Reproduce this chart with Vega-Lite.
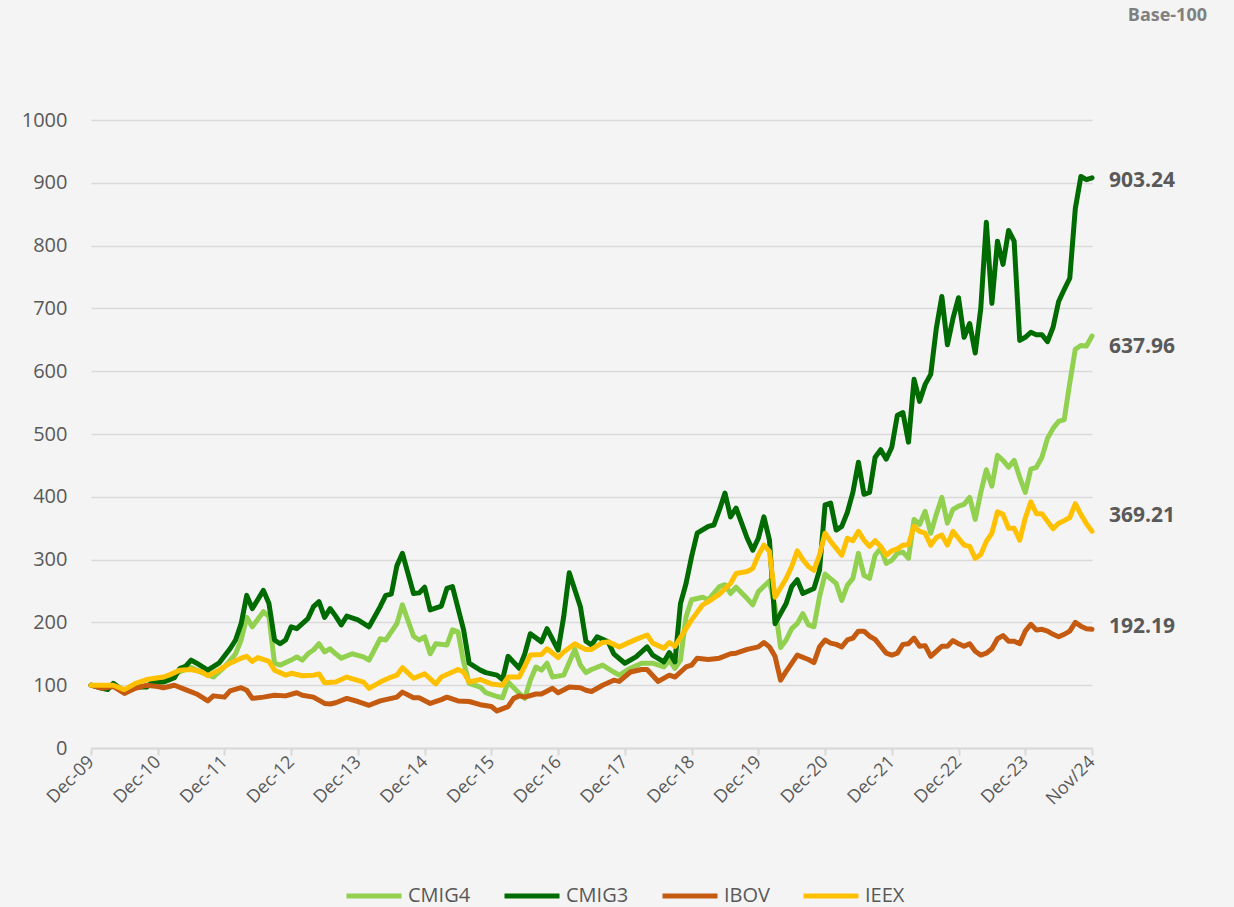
{
"$schema": "https://vega.github.io/schema/vega-lite/v6.json",
"width": 1001, "height": 628,
"autosize": {"type": "none"},
"padding": {"left": 91, "top": 120, "right": 142, "bottom": 159},
"background": "#f4f4f4",
"config": {"font": "Open Sans", "view": {"stroke": null}},
"title": {"text": "Base-100", "anchor": "end", "frame": "group", "fontSize": 18, "fontWeight": "bold", "color": "#808080", "offset": 85, "dx": 115},
"layer": [
{
"data": {"values": [
{"s":"CMIG4","m":0,"v":100},{"s":"CMIG4","m":2,"v":97},{"s":"CMIG4","m":4,"v":101},{"s":"CMIG4","m":6,"v":91},{"s":"CMIG4","m":8,"v":97},{"s":"CMIG4","m":10,"v":98},{"s":"CMIG4","m":12,"v":104},{"s":"CMIG4","m":14,"v":108},{"s":"CMIG4","m":15,"v":118},{"s":"CMIG4","m":17,"v":125},{"s":"CMIG4","m":18,"v":128},{"s":"CMIG4","m":20,"v":120},{"s":"CMIG4","m":22,"v":113},{"s":"CMIG4","m":24,"v":129},{"s":"CMIG4","m":26,"v":150},{"s":"CMIG4","m":27,"v":172},{"s":"CMIG4","m":28,"v":208},{"s":"CMIG4","m":29,"v":193},{"s":"CMIG4","m":31,"v":217},{"s":"CMIG4","m":32,"v":209},{"s":"CMIG4","m":33,"v":135},{"s":"CMIG4","m":34,"v":132},{"s":"CMIG4","m":36,"v":140},{"s":"CMIG4","m":37,"v":145},{"s":"CMIG4","m":38,"v":140},{"s":"CMIG4","m":39,"v":150},{"s":"CMIG4","m":40,"v":156},{"s":"CMIG4","m":41,"v":166},{"s":"CMIG4","m":42,"v":153},{"s":"CMIG4","m":43,"v":158},{"s":"CMIG4","m":44,"v":150},{"s":"CMIG4","m":45,"v":143},{"s":"CMIG4","m":47,"v":150},{"s":"CMIG4","m":49,"v":145},{"s":"CMIG4","m":50,"v":140},{"s":"CMIG4","m":52,"v":174},{"s":"CMIG4","m":53,"v":172},{"s":"CMIG4","m":55,"v":198},{"s":"CMIG4","m":56,"v":228},{"s":"CMIG4","m":58,"v":178},{"s":"CMIG4","m":59,"v":172},{"s":"CMIG4","m":60,"v":177},{"s":"CMIG4","m":61,"v":150},{"s":"CMIG4","m":62,"v":166},{"s":"CMIG4","m":64,"v":164},{"s":"CMIG4","m":65,"v":188},{"s":"CMIG4","m":66,"v":185},{"s":"CMIG4","m":67,"v":137},{"s":"CMIG4","m":68,"v":103},{"s":"CMIG4","m":70,"v":97},{"s":"CMIG4","m":71,"v":88},{"s":"CMIG4","m":73,"v":82},{"s":"CMIG4","m":74,"v":80},{"s":"CMIG4","m":75,"v":105},{"s":"CMIG4","m":77,"v":87},{"s":"CMIG4","m":78,"v":79},{"s":"CMIG4","m":79,"v":108},{"s":"CMIG4","m":80,"v":129},{"s":"CMIG4","m":81,"v":124},{"s":"CMIG4","m":82,"v":135},{"s":"CMIG4","m":83,"v":113},{"s":"CMIG4","m":85,"v":116},{"s":"CMIG4","m":87,"v":157},{"s":"CMIG4","m":88,"v":132},{"s":"CMIG4","m":89,"v":120},{"s":"CMIG4","m":90,"v":125},{"s":"CMIG4","m":92,"v":132},{"s":"CMIG4","m":94,"v":121},{"s":"CMIG4","m":95,"v":116},{"s":"CMIG4","m":97,"v":127},{"s":"CMIG4","m":99,"v":135},{"s":"CMIG4","m":101,"v":135},{"s":"CMIG4","m":103,"v":129},{"s":"CMIG4","m":104,"v":140},{"s":"CMIG4","m":105,"v":127},{"s":"CMIG4","m":106,"v":140},{"s":"CMIG4","m":107,"v":209},{"s":"CMIG4","m":108,"v":236},{"s":"CMIG4","m":110,"v":240},{"s":"CMIG4","m":111,"v":236},{"s":"CMIG4","m":113,"v":257},{"s":"CMIG4","m":114,"v":260},{"s":"CMIG4","m":115,"v":246},{"s":"CMIG4","m":116,"v":256},{"s":"CMIG4","m":118,"v":238},{"s":"CMIG4","m":119,"v":228},{"s":"CMIG4","m":120,"v":249},{"s":"CMIG4","m":122,"v":266},{"s":"CMIG4","m":123,"v":225},{"s":"CMIG4","m":124,"v":160},{"s":"CMIG4","m":125,"v":172},{"s":"CMIG4","m":126,"v":190},{"s":"CMIG4","m":127,"v":198},{"s":"CMIG4","m":128,"v":214},{"s":"CMIG4","m":129,"v":196},{"s":"CMIG4","m":130,"v":193},{"s":"CMIG4","m":131,"v":241},{"s":"CMIG4","m":132,"v":277},{"s":"CMIG4","m":134,"v":262},{"s":"CMIG4","m":135,"v":235},{"s":"CMIG4","m":136,"v":259},{"s":"CMIG4","m":137,"v":270},{"s":"CMIG4","m":138,"v":310},{"s":"CMIG4","m":139,"v":275},{"s":"CMIG4","m":140,"v":270},{"s":"CMIG4","m":141,"v":307},{"s":"CMIG4","m":142,"v":318},{"s":"CMIG4","m":143,"v":294},{"s":"CMIG4","m":144,"v":299},{"s":"CMIG4","m":145,"v":310},{"s":"CMIG4","m":146,"v":312},{"s":"CMIG4","m":147,"v":302},{"s":"CMIG4","m":148,"v":364},{"s":"CMIG4","m":149,"v":356},{"s":"CMIG4","m":150,"v":377},{"s":"CMIG4","m":151,"v":342},{"s":"CMIG4","m":152,"v":372},{"s":"CMIG4","m":153,"v":399},{"s":"CMIG4","m":154,"v":358},{"s":"CMIG4","m":155,"v":380},{"s":"CMIG4","m":156,"v":385},{"s":"CMIG4","m":157,"v":388},{"s":"CMIG4","m":158,"v":399},{"s":"CMIG4","m":159,"v":364},{"s":"CMIG4","m":160,"v":407},{"s":"CMIG4","m":161,"v":443},{"s":"CMIG4","m":162,"v":417},{"s":"CMIG4","m":163,"v":466},{"s":"CMIG4","m":164,"v":458},{"s":"CMIG4","m":165,"v":447},{"s":"CMIG4","m":166,"v":458},{"s":"CMIG4","m":167,"v":431},{"s":"CMIG4","m":168,"v":407},{"s":"CMIG4","m":169,"v":444},{"s":"CMIG4","m":170,"v":447},{"s":"CMIG4","m":171,"v":463},{"s":"CMIG4","m":172,"v":493},{"s":"CMIG4","m":173,"v":509},{"s":"CMIG4","m":174,"v":520},{"s":"CMIG4","m":175,"v":523},{"s":"CMIG4","m":176,"v":581},{"s":"CMIG4","m":177,"v":635},{"s":"CMIG4","m":178,"v":641},{"s":"CMIG4","m":179,"v":640},{"s":"CMIG4","m":180,"v":656},
{"s":"CMIG3","m":0,"v":100},{"s":"CMIG3","m":2,"v":95},{"s":"CMIG3","m":3,"v":93},{"s":"CMIG3","m":4,"v":103},{"s":"CMIG3","m":6,"v":90},{"s":"CMIG3","m":8,"v":97},{"s":"CMIG3","m":10,"v":97},{"s":"CMIG3","m":11,"v":105},{"s":"CMIG3","m":13,"v":105},{"s":"CMIG3","m":15,"v":112},{"s":"CMIG3","m":16,"v":127},{"s":"CMIG3","m":17,"v":130},{"s":"CMIG3","m":18,"v":140},{"s":"CMIG3","m":19,"v":135},{"s":"CMIG3","m":21,"v":124},{"s":"CMIG3","m":23,"v":135},{"s":"CMIG3","m":25,"v":158},{"s":"CMIG3","m":26,"v":172},{"s":"CMIG3","m":27,"v":198},{"s":"CMIG3","m":28,"v":243},{"s":"CMIG3","m":29,"v":222},{"s":"CMIG3","m":31,"v":251},{"s":"CMIG3","m":32,"v":230},{"s":"CMIG3","m":33,"v":172},{"s":"CMIG3","m":34,"v":166},{"s":"CMIG3","m":35,"v":172},{"s":"CMIG3","m":36,"v":193},{"s":"CMIG3","m":37,"v":190},{"s":"CMIG3","m":39,"v":206},{"s":"CMIG3","m":40,"v":225},{"s":"CMIG3","m":41,"v":233},{"s":"CMIG3","m":42,"v":208},{"s":"CMIG3","m":43,"v":222},{"s":"CMIG3","m":44,"v":210},{"s":"CMIG3","m":45,"v":196},{"s":"CMIG3","m":46,"v":210},{"s":"CMIG3","m":48,"v":204},{"s":"CMIG3","m":50,"v":193},{"s":"CMIG3","m":52,"v":225},{"s":"CMIG3","m":53,"v":243},{"s":"CMIG3","m":54,"v":245},{"s":"CMIG3","m":55,"v":290},{"s":"CMIG3","m":56,"v":310},{"s":"CMIG3","m":58,"v":246},{"s":"CMIG3","m":59,"v":247},{"s":"CMIG3","m":60,"v":256},{"s":"CMIG3","m":61,"v":220},{"s":"CMIG3","m":63,"v":226},{"s":"CMIG3","m":64,"v":254},{"s":"CMIG3","m":65,"v":257},{"s":"CMIG3","m":67,"v":188},{"s":"CMIG3","m":68,"v":135},{"s":"CMIG3","m":70,"v":124},{"s":"CMIG3","m":71,"v":120},{"s":"CMIG3","m":73,"v":116},{"s":"CMIG3","m":74,"v":109},{"s":"CMIG3","m":75,"v":146},{"s":"CMIG3","m":77,"v":127},{"s":"CMIG3","m":78,"v":150},{"s":"CMIG3","m":79,"v":182},{"s":"CMIG3","m":81,"v":169},{"s":"CMIG3","m":82,"v":190},{"s":"CMIG3","m":84,"v":156},{"s":"CMIG3","m":85,"v":209},{"s":"CMIG3","m":86,"v":279},{"s":"CMIG3","m":88,"v":225},{"s":"CMIG3","m":89,"v":170},{"s":"CMIG3","m":90,"v":164},{"s":"CMIG3","m":91,"v":177},{"s":"CMIG3","m":93,"v":169},{"s":"CMIG3","m":94,"v":150},{"s":"CMIG3","m":96,"v":135},{"s":"CMIG3","m":98,"v":145},{"s":"CMIG3","m":100,"v":161},{"s":"CMIG3","m":101,"v":148},{"s":"CMIG3","m":103,"v":137},{"s":"CMIG3","m":104,"v":152},{"s":"CMIG3","m":105,"v":137},{"s":"CMIG3","m":106,"v":230},{"s":"CMIG3","m":107,"v":262},{"s":"CMIG3","m":108,"v":305},{"s":"CMIG3","m":109,"v":342},{"s":"CMIG3","m":111,"v":353},{"s":"CMIG3","m":112,"v":355},{"s":"CMIG3","m":113,"v":379},{"s":"CMIG3","m":114,"v":406},{"s":"CMIG3","m":115,"v":368},{"s":"CMIG3","m":116,"v":382},{"s":"CMIG3","m":118,"v":334},{"s":"CMIG3","m":119,"v":315},{"s":"CMIG3","m":120,"v":334},{"s":"CMIG3","m":121,"v":368},{"s":"CMIG3","m":122,"v":331},{"s":"CMIG3","m":123,"v":198},{"s":"CMIG3","m":125,"v":230},{"s":"CMIG3","m":126,"v":257},{"s":"CMIG3","m":127,"v":268},{"s":"CMIG3","m":128,"v":246},{"s":"CMIG3","m":130,"v":254},{"s":"CMIG3","m":131,"v":283},{"s":"CMIG3","m":132,"v":387},{"s":"CMIG3","m":133,"v":390},{"s":"CMIG3","m":134,"v":347},{"s":"CMIG3","m":135,"v":353},{"s":"CMIG3","m":136,"v":375},{"s":"CMIG3","m":137,"v":407},{"s":"CMIG3","m":138,"v":455},{"s":"CMIG3","m":139,"v":404},{"s":"CMIG3","m":140,"v":407},{"s":"CMIG3","m":141,"v":463},{"s":"CMIG3","m":142,"v":475},{"s":"CMIG3","m":143,"v":460},{"s":"CMIG3","m":144,"v":479},{"s":"CMIG3","m":145,"v":530},{"s":"CMIG3","m":146,"v":534},{"s":"CMIG3","m":147,"v":487},{"s":"CMIG3","m":148,"v":587},{"s":"CMIG3","m":149,"v":552},{"s":"CMIG3","m":150,"v":579},{"s":"CMIG3","m":151,"v":595},{"s":"CMIG3","m":152,"v":668},{"s":"CMIG3","m":153,"v":719},{"s":"CMIG3","m":154,"v":642},{"s":"CMIG3","m":155,"v":684},{"s":"CMIG3","m":156,"v":717},{"s":"CMIG3","m":157,"v":654},{"s":"CMIG3","m":158,"v":676},{"s":"CMIG3","m":159,"v":629},{"s":"CMIG3","m":160,"v":700},{"s":"CMIG3","m":161,"v":837},{"s":"CMIG3","m":162,"v":708},{"s":"CMIG3","m":163,"v":807},{"s":"CMIG3","m":164,"v":770},{"s":"CMIG3","m":165,"v":824},{"s":"CMIG3","m":166,"v":807},{"s":"CMIG3","m":167,"v":649},{"s":"CMIG3","m":168,"v":654},{"s":"CMIG3","m":169,"v":662},{"s":"CMIG3","m":170,"v":658},{"s":"CMIG3","m":171,"v":658},{"s":"CMIG3","m":172,"v":647},{"s":"CMIG3","m":173,"v":670},{"s":"CMIG3","m":174,"v":711},{"s":"CMIG3","m":175,"v":730},{"s":"CMIG3","m":176,"v":748},{"s":"CMIG3","m":177,"v":859},{"s":"CMIG3","m":178,"v":910},{"s":"CMIG3","m":179,"v":905},{"s":"CMIG3","m":180,"v":908},
{"s":"IBOV","m":0,"v":100},{"s":"IBOV","m":2,"v":95},{"s":"IBOV","m":4,"v":98},{"s":"IBOV","m":6,"v":87},{"s":"IBOV","m":8,"v":95},{"s":"IBOV","m":10,"v":100},{"s":"IBOV","m":12,"v":98},{"s":"IBOV","m":13,"v":96},{"s":"IBOV","m":15,"v":100},{"s":"IBOV","m":17,"v":93},{"s":"IBOV","m":19,"v":86},{"s":"IBOV","m":21,"v":75},{"s":"IBOV","m":22,"v":83},{"s":"IBOV","m":24,"v":81},{"s":"IBOV","m":25,"v":91},{"s":"IBOV","m":27,"v":96},{"s":"IBOV","m":28,"v":92},{"s":"IBOV","m":29,"v":79},{"s":"IBOV","m":31,"v":81},{"s":"IBOV","m":33,"v":84},{"s":"IBOV","m":35,"v":83},{"s":"IBOV","m":37,"v":88},{"s":"IBOV","m":38,"v":84},{"s":"IBOV","m":40,"v":81},{"s":"IBOV","m":42,"v":71},{"s":"IBOV","m":43,"v":70},{"s":"IBOV","m":44,"v":72},{"s":"IBOV","m":46,"v":79},{"s":"IBOV","m":48,"v":74},{"s":"IBOV","m":50,"v":68},{"s":"IBOV","m":52,"v":75},{"s":"IBOV","m":53,"v":77},{"s":"IBOV","m":55,"v":81},{"s":"IBOV","m":56,"v":89},{"s":"IBOV","m":58,"v":80},{"s":"IBOV","m":59,"v":80},{"s":"IBOV","m":61,"v":71},{"s":"IBOV","m":63,"v":77},{"s":"IBOV","m":64,"v":81},{"s":"IBOV","m":66,"v":75},{"s":"IBOV","m":68,"v":74},{"s":"IBOV","m":70,"v":69},{"s":"IBOV","m":72,"v":66},{"s":"IBOV","m":73,"v":59},{"s":"IBOV","m":75,"v":66},{"s":"IBOV","m":76,"v":79},{"s":"IBOV","m":77,"v":83},{"s":"IBOV","m":78,"v":81},{"s":"IBOV","m":80,"v":86},{"s":"IBOV","m":81,"v":86},{"s":"IBOV","m":83,"v":95},{"s":"IBOV","m":84,"v":88},{"s":"IBOV","m":86,"v":97},{"s":"IBOV","m":88,"v":96},{"s":"IBOV","m":89,"v":92},{"s":"IBOV","m":90,"v":90},{"s":"IBOV","m":92,"v":100},{"s":"IBOV","m":94,"v":108},{"s":"IBOV","m":95,"v":106},{"s":"IBOV","m":97,"v":121},{"s":"IBOV","m":99,"v":125},{"s":"IBOV","m":100,"v":125},{"s":"IBOV","m":102,"v":106},{"s":"IBOV","m":104,"v":116},{"s":"IBOV","m":105,"v":113},{"s":"IBOV","m":107,"v":129},{"s":"IBOV","m":108,"v":132},{"s":"IBOV","m":109,"v":143},{"s":"IBOV","m":111,"v":141},{"s":"IBOV","m":113,"v":143},{"s":"IBOV","m":115,"v":150},{"s":"IBOV","m":116,"v":151},{"s":"IBOV","m":118,"v":157},{"s":"IBOV","m":120,"v":161},{"s":"IBOV","m":121,"v":168},{"s":"IBOV","m":122,"v":161},{"s":"IBOV","m":123,"v":146},{"s":"IBOV","m":124,"v":108},{"s":"IBOV","m":125,"v":122},{"s":"IBOV","m":127,"v":148},{"s":"IBOV","m":129,"v":141},{"s":"IBOV","m":130,"v":136},{"s":"IBOV","m":131,"v":161},{"s":"IBOV","m":132,"v":172},{"s":"IBOV","m":133,"v":167},{"s":"IBOV","m":134,"v":165},{"s":"IBOV","m":135,"v":161},{"s":"IBOV","m":136,"v":172},{"s":"IBOV","m":137,"v":175},{"s":"IBOV","m":138,"v":186},{"s":"IBOV","m":139,"v":186},{"s":"IBOV","m":140,"v":178},{"s":"IBOV","m":141,"v":173},{"s":"IBOV","m":142,"v":162},{"s":"IBOV","m":143,"v":151},{"s":"IBOV","m":144,"v":148},{"s":"IBOV","m":145,"v":151},{"s":"IBOV","m":146,"v":165},{"s":"IBOV","m":147,"v":166},{"s":"IBOV","m":148,"v":175},{"s":"IBOV","m":149,"v":162},{"s":"IBOV","m":150,"v":163},{"s":"IBOV","m":151,"v":146},{"s":"IBOV","m":152,"v":154},{"s":"IBOV","m":153,"v":162},{"s":"IBOV","m":154,"v":162},{"s":"IBOV","m":155,"v":171},{"s":"IBOV","m":156,"v":166},{"s":"IBOV","m":157,"v":162},{"s":"IBOV","m":158,"v":166},{"s":"IBOV","m":159,"v":154},{"s":"IBOV","m":160,"v":148},{"s":"IBOV","m":161,"v":151},{"s":"IBOV","m":162,"v":158},{"s":"IBOV","m":163,"v":174},{"s":"IBOV","m":164,"v":179},{"s":"IBOV","m":165,"v":170},{"s":"IBOV","m":166,"v":170},{"s":"IBOV","m":167,"v":166},{"s":"IBOV","m":168,"v":186},{"s":"IBOV","m":169,"v":197},{"s":"IBOV","m":170,"v":188},{"s":"IBOV","m":171,"v":189},{"s":"IBOV","m":172,"v":186},{"s":"IBOV","m":173,"v":181},{"s":"IBOV","m":174,"v":177},{"s":"IBOV","m":175,"v":181},{"s":"IBOV","m":176,"v":186},{"s":"IBOV","m":177,"v":200},{"s":"IBOV","m":178,"v":194},{"s":"IBOV","m":179,"v":190},{"s":"IBOV","m":180,"v":189},
{"s":"IEEX","m":0,"v":100},{"s":"IEEX","m":4,"v":100},{"s":"IEEX","m":6,"v":93},{"s":"IEEX","m":8,"v":103},{"s":"IEEX","m":10,"v":109},{"s":"IEEX","m":13,"v":113},{"s":"IEEX","m":14,"v":116},{"s":"IEEX","m":16,"v":124},{"s":"IEEX","m":18,"v":125},{"s":"IEEX","m":20,"v":121},{"s":"IEEX","m":21,"v":115},{"s":"IEEX","m":23,"v":124},{"s":"IEEX","m":25,"v":135},{"s":"IEEX","m":27,"v":143},{"s":"IEEX","m":28,"v":146},{"s":"IEEX","m":29,"v":138},{"s":"IEEX","m":30,"v":144},{"s":"IEEX","m":32,"v":138},{"s":"IEEX","m":33,"v":124},{"s":"IEEX","m":35,"v":116},{"s":"IEEX","m":36,"v":119},{"s":"IEEX","m":38,"v":115},{"s":"IEEX","m":40,"v":116},{"s":"IEEX","m":41,"v":118},{"s":"IEEX","m":42,"v":104},{"s":"IEEX","m":44,"v":105},{"s":"IEEX","m":46,"v":113},{"s":"IEEX","m":49,"v":105},{"s":"IEEX","m":50,"v":95},{"s":"IEEX","m":52,"v":105},{"s":"IEEX","m":54,"v":113},{"s":"IEEX","m":55,"v":116},{"s":"IEEX","m":56,"v":128},{"s":"IEEX","m":58,"v":111},{"s":"IEEX","m":60,"v":118},{"s":"IEEX","m":62,"v":102},{"s":"IEEX","m":63,"v":113},{"s":"IEEX","m":65,"v":121},{"s":"IEEX","m":66,"v":125},{"s":"IEEX","m":67,"v":121},{"s":"IEEX","m":68,"v":105},{"s":"IEEX","m":70,"v":109},{"s":"IEEX","m":72,"v":102},{"s":"IEEX","m":74,"v":100},{"s":"IEEX","m":75,"v":113},{"s":"IEEX","m":77,"v":113},{"s":"IEEX","m":79,"v":148},{"s":"IEEX","m":81,"v":149},{"s":"IEEX","m":82,"v":158},{"s":"IEEX","m":84,"v":144},{"s":"IEEX","m":85,"v":153},{"s":"IEEX","m":87,"v":166},{"s":"IEEX","m":88,"v":161},{"s":"IEEX","m":89,"v":157},{"s":"IEEX","m":90,"v":157},{"s":"IEEX","m":92,"v":168},{"s":"IEEX","m":93,"v":169},{"s":"IEEX","m":95,"v":161},{"s":"IEEX","m":98,"v":173},{"s":"IEEX","m":100,"v":180},{"s":"IEEX","m":101,"v":167},{"s":"IEEX","m":103,"v":159},{"s":"IEEX","m":104,"v":168},{"s":"IEEX","m":105,"v":162},{"s":"IEEX","m":107,"v":190},{"s":"IEEX","m":108,"v":204},{"s":"IEEX","m":110,"v":228},{"s":"IEEX","m":111,"v":233},{"s":"IEEX","m":113,"v":245},{"s":"IEEX","m":115,"v":262},{"s":"IEEX","m":116,"v":278},{"s":"IEEX","m":118,"v":281},{"s":"IEEX","m":119,"v":286},{"s":"IEEX","m":120,"v":307},{"s":"IEEX","m":121,"v":323},{"s":"IEEX","m":122,"v":313},{"s":"IEEX","m":123,"v":240},{"s":"IEEX","m":125,"v":270},{"s":"IEEX","m":126,"v":289},{"s":"IEEX","m":127,"v":314},{"s":"IEEX","m":128,"v":300},{"s":"IEEX","m":129,"v":289},{"s":"IEEX","m":130,"v":283},{"s":"IEEX","m":131,"v":307},{"s":"IEEX","m":132,"v":342},{"s":"IEEX","m":133,"v":329},{"s":"IEEX","m":135,"v":307},{"s":"IEEX","m":136,"v":334},{"s":"IEEX","m":137,"v":330},{"s":"IEEX","m":138,"v":345},{"s":"IEEX","m":139,"v":331},{"s":"IEEX","m":140,"v":321},{"s":"IEEX","m":141,"v":330},{"s":"IEEX","m":142,"v":321},{"s":"IEEX","m":143,"v":307},{"s":"IEEX","m":144,"v":314},{"s":"IEEX","m":145,"v":317},{"s":"IEEX","m":146,"v":323},{"s":"IEEX","m":147,"v":324},{"s":"IEEX","m":148,"v":353},{"s":"IEEX","m":149,"v":345},{"s":"IEEX","m":150,"v":342},{"s":"IEEX","m":151,"v":323},{"s":"IEEX","m":152,"v":335},{"s":"IEEX","m":153,"v":339},{"s":"IEEX","m":154,"v":323},{"s":"IEEX","m":155,"v":345},{"s":"IEEX","m":156,"v":334},{"s":"IEEX","m":157,"v":323},{"s":"IEEX","m":158,"v":321},{"s":"IEEX","m":159,"v":302},{"s":"IEEX","m":160,"v":308},{"s":"IEEX","m":161,"v":329},{"s":"IEEX","m":162,"v":342},{"s":"IEEX","m":163,"v":376},{"s":"IEEX","m":164,"v":372},{"s":"IEEX","m":165,"v":350},{"s":"IEEX","m":166,"v":350},{"s":"IEEX","m":167,"v":331},{"s":"IEEX","m":168,"v":366},{"s":"IEEX","m":169,"v":392},{"s":"IEEX","m":170,"v":373},{"s":"IEEX","m":171,"v":373},{"s":"IEEX","m":172,"v":361},{"s":"IEEX","m":173,"v":349},{"s":"IEEX","m":174,"v":358},{"s":"IEEX","m":175,"v":362},{"s":"IEEX","m":176,"v":367},{"s":"IEEX","m":177,"v":389},{"s":"IEEX","m":178,"v":372},{"s":"IEEX","m":179,"v":357},{"s":"IEEX","m":180,"v":345}
]},
"mark": {"type": "line", "strokeWidth": 5, "strokeJoin": "round", "strokeCap": "round"},
"encoding": {
"x": {"field": "m", "type": "quantitative", "scale": {"domain": [0, 180], "nice": false, "zero": false},
"axis": {"title": null, "grid": false, "values": [0,12,24,36,48,60,72,84,96,108,120,132,144,156,168,180],
"labelExpr": "datum.value == 180 ? 'Nov/24' : 'Dec-' + (datum.value < 12 ? '0' : '') + (9 + datum.value / 12)",
"labelAngle": -45, "labelAlign": "right", "labelBaseline": "middle", "labelFontSize": 18, "labelColor": "#595959", "labelPadding": 4,
"domainColor": "#d9d9d9", "domainWidth": 2, "tickColor": "#d9d9d9", "tickWidth": 2, "tickSize": 7, "labelFlush": false, "labelOverlap": false}},
"y": {"field": "v", "type": "quantitative", "scale": {"domain": [0, 1000], "nice": false},
"axis": {"title": null, "format": "d", "values": [0,100,200,300,400,500,600,700,800,900,1000], "domain": false, "ticks": false, "labelPadding": 24, "labelFontSize": 20, "labelColor": "#595959", "gridColor": "#d9d9d9", "gridWidth": 1.5}},
"color": {"field": "s", "type": "nominal", "sort": ["CMIG4","CMIG3","IBOV","IEEX"],
"scale": {"domain": ["CMIG4","CMIG3","IBOV","IEEX"], "range": ["#92d050","#006b00","#c55a11","#ffc000"]},
"legend": {"title": null, "orient": "none", "direction": "horizontal", "legendX": 253, "legendY": 746, "symbolType": "stroke", "symbolSize": 3025, "symbolStrokeWidth": 5, "labelFontSize": 20, "labelColor": "#595959", "labelOffset": 4, "columnPadding": 23}}
}
},
{
"data": {"values": [
{"m": 180, "v": 903.24, "t": "903.24"},
{"m": 180, "v": 637.96, "t": "637.96"},
{"m": 180, "v": 369.21, "t": "369.21"},
{"m": 180, "v": 192.19, "t": "192.19"}
]},
"mark": {"type": "text", "align": "left", "baseline": "middle", "dx": 17, "fontSize": 21, "fontWeight": "bold", "color": "#595959"},
"encoding": {
"x": {"field": "m", "type": "quantitative"},
"y": {"field": "v", "type": "quantitative"},
"text": {"field": "t"}
}
}
]
}
